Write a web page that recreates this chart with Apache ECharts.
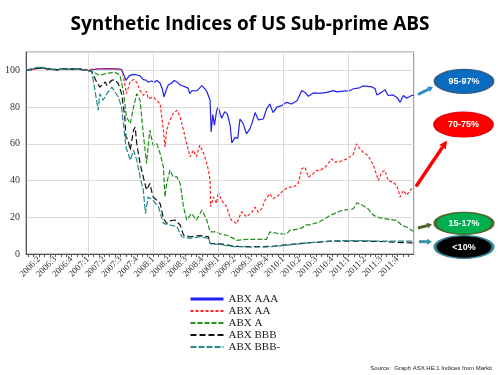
<!DOCTYPE html>
<html><head><meta charset="utf-8">
<script src="https://cdn.jsdelivr.net/npm/echarts@6/dist/echarts.min.js"></script>
<style>html,body{margin:0;padding:0;background:#fff}#c{width:500px;height:375px}</style>
</head><body><div id="c"></div>
<script>
// x = months since 1 Jan 2006
const seriesNames = ['ABX AAA', 'ABX AA', 'ABX A', 'ABX BBB', 'ABX BBB-'];
const aaa = [[0.6,100],[1.5,100.4],[2.6,101],[3.5,101.3],[4.5,100.9],[5.5,100.5],[6.5,100.3],[7.2,101],[8.5,100.5],[10.2,100.9],[11.2,100.3],[12.5,100.2],[14,100.8],[15.5,100.9],[17,100.8],[18.2,100.5],[18.7,97],[19.0,94.6],[19.6,97],[20.3,97.8],[21,97.5],[21.6,97],[22.2,95],[22.8,94.6],[23.1,93.5],[23.7,94.2],[24.2,93.5],[24.7,94.5],[25.3,93],[25.7,90],[26.0,85.5],[26.4,89],[26.8,92],[27.4,93],[27.9,94.5],[28.5,93.5],[29.0,92],[29.5,91.5],[29.9,91],[30.4,90.5],[30.8,87.3],[31.1,88.8],[31.4,89.5],[32.1,89],[32.5,90.2],[33.0,91.7],[33.5,90],[33.9,88.5],[34.2,87.5],[34.5,83.7],[34.7,66.5],[35.0,76],[35.3,70],[35.7,78],[36.0,80],[36.6,74],[37.2,77.5],[37.7,76],[38.2,70],[38.5,60.5],[39.1,63.5],[39.6,63],[40.0,73.5],[40.6,71],[41.2,65.4],[41.8,68],[42.2,71],[42.8,77],[43.4,73],[44.3,73.5],[44.9,79],[45.5,81.7],[46.1,77],[46.8,80],[47.7,80.8],[48.6,82.6],[49.5,81.7],[50.5,83.5],[51.4,89],[52.0,88],[52.6,85.9],[53.5,87.7],[54.7,87.5],[56,88],[57.2,89],[57.9,88.3],[59,88.7],[60.3,89],[60.9,90],[62,90.5],[62.7,91.5],[63.5,91.3],[64.3,91],[64.9,90],[65.2,86.6],[66.1,88],[66.7,89.5],[67.3,86.3],[68.2,86.6],[69,85],[69.5,82.6],[70.1,86.3],[70.7,84.8],[71.6,86.3],[72,86.5]];
const aa = [[0.6,100],[1.5,100.3],[2.6,100.9],[3.5,101.2],[4.5,100.8],[5.5,100.4],[6.5,100.3],[7.2,100.9],[8.5,100.4],[10.2,100.8],[11.2,100.3],[12.5,100.5],[14,100.9],[15.5,100.9],[17,100.8],[18.2,100.4],[18.5,97.3],[19.1,87.3],[19.8,94],[20.4,95],[21,93.5],[21.6,89.1],[22.2,86.4],[22.8,88.6],[23.1,84.6],[24,85.5],[24.7,83.7],[25.3,81.9],[25.9,67.4],[26.2,58.3],[26.5,67.4],[27.1,72.8],[27.7,76.4],[28.4,78.3],[29,74.6],[29.6,67.4],[30.2,60.1],[30.8,52.9],[31.4,56.5],[32,52.9],[32.6,59.2],[33.3,54.7],[33.9,49.3],[34.2,45.6],[34.5,40.2],[34.6,25.7],[35.1,31.1],[35.7,27.5],[36.0,33.9],[36.6,29.2],[37.6,25.5],[38.2,19.4],[38.5,18.3],[39.4,16.5],[40.3,23],[41.2,20.2],[42.2,22.8],[42.8,25.5],[43.4,22.8],[44.0,24.6],[44.6,29.2],[45.5,32.8],[46.1,30.1],[47.1,32],[48.0,34.6],[48.9,36.4],[49.8,36.4],[50.7,38.2],[51.4,46.4],[52.0,47.3],[52.6,41.8],[53.5,43.7],[54.1,45.5],[54.7,45.5],[55.7,47.3],[56.9,51.8],[57.5,50],[58.4,50.3],[59.7,51.8],[60.9,54.5],[61.5,60],[62.1,57.2],[62.7,55.4],[63.6,53.6],[64.6,48.2],[65.5,40],[66.1,44.6],[66.7,45.5],[67.3,40],[68.2,39.1],[68.9,37.3],[69.5,31],[70.1,34.6],[70.7,32],[71.6,35.5],[72,35]];
const a = [[0.6,100],[1.5,100.5],[2.6,101.2],[3.5,101.5],[4.5,101],[5.5,100.6],[6.5,100.3],[7.2,101],[8.5,100.5],[10.2,100.9],[11.2,100.3],[12.7,99.5],[14.2,97.3],[15.5,98.4],[17,98.9],[17.9,97.3],[18.5,89.1],[19.1,74.6],[19.8,71],[20.4,80],[21,87.3],[21.6,83.7],[22.2,65.6],[22.8,49.3],[23.4,67.4],[23.7,68.3],[24,59.2],[24.7,60.1],[25.3,54.7],[25.9,47.5],[26.2,31.1],[26.5,38.4],[27.1,45.7],[27.7,42],[28.4,42],[29,38.4],[29.6,25.7],[30.2,18.5],[31.1,22.1],[32,18.5],[33,23.9],[33.9,18.5],[34.5,12.1],[35.7,12.1],[36.3,11],[37.6,10.2],[38.8,8.5],[39.4,7.4],[41.2,8],[43,8],[44.9,8],[45.5,12],[47.4,11],[48.6,11],[49.2,12.9],[51.1,13.8],[52.3,15.9],[52.9,15.9],[54.7,17.5],[56.6,21],[58.7,23.7],[60.9,24.6],[61.5,27.9],[62.4,26.8],[63.6,24.6],[64.6,21],[65.8,19.7],[67.6,18.8],[68.9,18.3],[69.8,15.6],[70.7,14.7],[71.6,12.9],[72,12.5]];
const bbb = [[0.6,100],[1.5,100.5],[2.6,101.1],[3.5,101.3],[4.5,100.8],[5.5,100.5],[6.5,100.4],[7.2,101],[8.5,100.5],[10.2,101],[11.2,100.3],[12.7,99.5],[13.6,93.7],[14.2,90.9],[15.2,93.7],[15.5,91.8],[16.4,94.6],[17,95],[17.6,92.7],[18.2,87.3],[18.8,74.6],[19,63.8],[19.4,62],[19.8,56.5],[20.4,67.4],[20.7,69.2],[21,60.1],[21.6,49.3],[22.2,42],[22.8,34.8],[23.4,38.4],[24,31.1],[24.7,29.2],[25.3,27.5],[25.9,19.4],[26.5,16.7],[27.1,18],[28,18.5],[29,15.8],[29.6,10.3],[30.8,9.4],[32.6,10],[34.2,9.4],[34.5,5.8],[36.3,5.5],[37.6,5],[39,4.2],[41.2,4],[44,4],[46,4.2],[48.6,5],[51.5,5.8],[54.7,6.5],[57,7],[60,7],[63,7],[66,6.8],[69,6.3],[72,6]];
const bbbMinus = [[0.6,100],[1.5,100.8],[2.6,101.5],[3.5,101.8],[4.5,101],[5.5,100.6],[6.5,100.5],[7.2,101],[8.5,100.6],[10.2,101],[11.2,100.3],[12.7,99.5],[13.3,89],[13.9,78.3],[14.2,87.3],[14.8,83.7],[15.5,87.3],[16.4,90.9],[17,88.2],[17.6,85.5],[18.2,80],[18.6,69.2],[19,58.3],[19.8,51.1],[20.4,56.5],[21,51.1],[21.6,42],[22.2,34.8],[22.6,22.1],[23.1,31.1],[24,29.2],[25,25.7],[25.9,16.7],[27.1,15.8],[28.4,14.9],[29.3,9.4],[30.8,8.5],[32.6,9.4],[34.2,8.5],[34.6,5.5],[36.3,5.2],[37.6,4.5],[39,4],[41.2,3.8],[44,3.8],[46,4],[48.6,4.8],[51.5,5.8],[54.7,6.6],[57,7.2],[60,7.3],[63,7.2],[66,7],[69,7],[72,7]];
const quarterLabels = ['2006:2','2006:3','2006:4','2007:1','2007:2','2007:3','2007:4','2008:1','2008:2','2008:3','2008:4','2009:1','2009:2','2009:3','2009:4','2010:1','2010:2','2010:3','2010:4','2011:1','2011:2','2011:3','2011:4'];
const yearGridLabels = ['2007:1','2008:1','2009:1','2010:1','2011:1'];
const yTickLabels = [0, 20, 40, 60, 80, 100];
const calloutTexts = ['95-97%', '70-75%', '15-17%', '<10%'];
const sourceText = 'Source:  Graph ASX.HE.1 Indices from Markit';
const titleText = 'Synthetic Indices of US Sub-prime ABS';

function labelToMonth(s) { const p = s.split(':'); return (+p[0] - 2006) * 12 + (+p[1] - 1) * 3; }
const labelMonths = quarterLabels.map(labelToMonth);
const monthTicks = []; for (let m = 1; m < 72; m++) monthTicks.push(m);
const yearLines = yearGridLabels.map(labelToMonth);

const colors = ['#2222ee', '#ff2222', '#1f8f1f', '#111111', '#218a8a'];
const dashes = ['solid', [3, 2], [5, 2], [6, 3], [6, 2]];
const datas = [aaa, aa, a, bbb, bbbMinus];

function arrow(x1, y1, x2, y2, color, w, hl, hw) {
  const dx = x2 - x1, dy = y2 - y1, L = Math.hypot(dx, dy), ux = dx / L, uy = dy / L;
  const bx = x2 - ux * hl, by = y2 - uy * hl, px = -uy, py = ux;
  return [
    { type: 'line', silent: true, shape: { x1: x1, y1: y1, x2: bx, y2: by }, style: { stroke: color, lineWidth: w } },
    { type: 'polygon', silent: true, shape: { points: [[x2, y2], [bx + px * hw / 2, by + py * hw / 2], [bx - px * hw / 2, by - py * hw / 2]] }, style: { fill: color } }
  ];
}
function ellipse(cx, cy, rx, ry, fill, stroke, text) {
  return [
    { type: 'circle', silent: true, x: cx, y: cy, scaleX: rx / ry, shape: { cx: 0, cy: 0, r: ry }, style: { fill: fill, stroke: stroke, lineWidth: 1.2, strokeNoScale: true } },
    { type: 'text', silent: true, x: cx, y: cy + 0.5, style: { text: text, fill: '#fff', fontSize: 9, fontWeight: 'bold', fontFamily: 'Liberation Sans', align: 'center', verticalAlign: 'middle' } }
  ];
}

const graphics = [].concat(
  arrow(418, 94.5, 433, 87, '#2a88cc', 3, 5, 6),
  ellipse(464, 81.3, 29, 12, '#0a6cc0', '#2f5f8f', calloutTexts[0]),
  arrow(416, 186.5, 447, 140.5, '#ff0000', 3.5, 8, 8),
  ellipse(463.5, 124.5, 29, 12.5, '#ff0000', '#e00000', calloutTexts[1]),
  arrow(418, 228, 432, 224.3, '#4f6228', 3, 5, 6),
  ellipse(464, 223.3, 29, 11, '#00b050', '#4f6228', calloutTexts[2]),
  arrow(419, 241.7, 432, 241.7, '#3596a8', 3, 5, 6),
  ellipse(464, 247, 29, 11.3, '#000000', '#31859c', calloutTexts[3]),
  [{ type: 'text', silent: true, x: 492, y: 368, style: { text: sourceText, fill: '#222', fontSize: 6, fontFamily: 'Liberation Sans', align: 'right', verticalAlign: 'middle' } }]
);

const series = [{
  name: 'grid', type: 'line', data: [], silent: true, z: 1,
  markLine: { silent: true, symbol: 'none', label: { show: false }, animation: false,
    lineStyle: { color: '#dcdcdc', type: 'solid', width: 1 },
    data: yearLines.map(v => ({ xAxis: v })) }
}].concat(seriesNames.map((n, i) => ({
  name: n, type: 'line', data: datas[i], symbol: 'none', z: 2 + i,
  lineStyle: { color: colors[i], width: 1.2, type: dashes[i] },
  itemStyle: { color: colors[i] }
})));

const chart = echarts.init(document.getElementById('c'), null, { renderer: 'canvas' });
chart.setOption({
  animation: false,
  backgroundColor: '#fff',
  title: { text: titleText, left: 'center', top: 15, padding: 0, textStyle: { fontFamily: 'Open Sans', fontWeight: 'bold', fontSize: 19, color: '#000' } },
  grid: { left: 26, right: 86.3, top: 52, bottom: 121, show: true, borderColor: '#8a8a8a', borderWidth: 1, containLabel: false, outerBoundsMode: 'none' },
  legend: {
    orient: 'vertical', left: 189, top: 293.5, padding: 0, itemWidth: 33, itemHeight: 10, itemGap: 1,
    itemStyle: { color: 'rgba(0,0,0,0)', borderWidth: 0, opacity: 0 },
    textStyle: { fontFamily: 'Liberation Serif', fontSize: 11, color: '#222', lineHeight: 11 },
    data: seriesNames.map((n, i) => ({ name: n, lineStyle: { width: i === 0 ? 3 : 2 } }))
  },
  xAxis: {
    type: 'value', min: 0.6, max: 72,
    axisLine: { show: true, lineStyle: { color: '#555', width: 1 } },
    axisTick: { show: true, length: 3, customValues: monthTicks, lineStyle: { color: '#555' } },
    axisLabel: { show: true, rotate: 45, margin: 4, customValues: labelMonths, fontFamily: 'Liberation Serif', fontSize: 9, color: '#333',
      formatter: v => { const i = labelMonths.indexOf(Math.round(v)); return i >= 0 ? quarterLabels[i] : ''; } },
    splitLine: { show: false }
  },
  yAxis: {
    type: 'value', min: 0, max: 110, interval: 20,
    axisLine: { show: true, lineStyle: { color: '#555', width: 1 } },
    axisTick: { show: false },
    axisLabel: { margin: 6, customValues: yTickLabels, fontFamily: 'Liberation Serif', fontSize: 10, color: '#333',
      formatter: v => (yTickLabels.indexOf(v) >= 0 ? String(v) : '') },
    splitLine: { show: true, lineStyle: { color: '#dcdcdc', width: 1 } }
  },
  graphic: graphics,
  series: series
});
</script></body></html>
